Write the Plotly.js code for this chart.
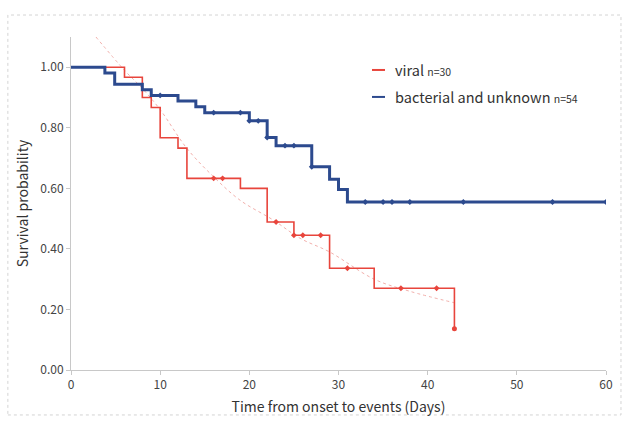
<!DOCTYPE html>
<html>
<head>
<meta charset="utf-8">
<script src="https://cdn.plot.ly/plotly-3.0.1.min.js"></script>
<style>html,body{margin:0;padding:0;background:#fff}#chart{width:623px;height:423px}</style>
</head>
<body>
<div id="chart"></div>
<script>
// Kaplan-Meier step data
var viralDays   = [0, 6, 8, 9, 10, 12, 13, 19, 22, 25, 29, 34, 43];
var viralSurv   = [1.0, 0.967, 0.9, 0.867, 0.767, 0.733, 0.633, 0.6, 0.489, 0.445, 0.336, 0.27, 0.136];
var viralCensDays = [16, 17, 23, 25, 26, 28, 31, 37, 41];
var viralCensSurv = [0.633, 0.633, 0.489, 0.445, 0.445, 0.445, 0.336, 0.27, 0.27];
var viralEndDay = [43];
var viralEndSurv = [0.136];

var bactDays = [0, 3.8, 4.9, 8, 9, 12, 14, 15, 20, 22, 23, 27, 29, 30, 31, 60];
var bactSurv = [1.0, 0.981, 0.944, 0.926, 0.907, 0.889, 0.87, 0.85, 0.823, 0.768, 0.741, 0.671, 0.63, 0.596, 0.555, 0.555];
var bactCensDays = [10, 16, 19, 20, 21, 22, 24, 25, 27, 33, 35, 36, 38, 44, 54, 60];
var bactCensSurv = [0.907, 0.85, 0.85, 0.823, 0.823, 0.768, 0.741, 0.741, 0.671, 0.555, 0.555, 0.555, 0.555, 0.555, 0.555, 0.555];

// faint fitted curve
var fitDays = [2.8, 6, 8, 10, 13, 16, 19, 22.7, 25.7, 29, 34, 38, 43];
var fitSurv = [1.10, 0.99, 0.93, 0.86, 0.732, 0.638, 0.56, 0.495, 0.435, 0.39, 0.30, 0.26, 0.222];

var seriesNames = ['viral', 'bacterial and unknown'];
var seriesN = ['n=30', 'n=54'];

var xTicks = [0, 10, 20, 30, 40, 50, 60];
var yTicks = [0, 0.2, 0.4, 0.6, 0.8, 1.0];

var red = '#e8453c', blue = '#2c4a8e';
var colors = [red, blue];

var traces = [
  {x: fitDays, y: fitSurv, mode: 'lines', line: {color: '#f2b0ac', width: 1, dash: 'dot', shape: 'spline'}, showlegend: false},
  {x: viralDays, y: viralSurv, mode: 'lines', name: seriesNames[0], line: {color: red, width: 1.6, shape: 'hv'}, showlegend: false},
  {x: bactDays, y: bactSurv, mode: 'lines', name: seriesNames[1], line: {color: blue, width: 3, shape: 'hv'}, showlegend: false},
  {x: viralCensDays, y: viralCensSurv, mode: 'markers', marker: {symbol: 'diamond', size: 4.5, color: red}, showlegend: false},
  {x: viralEndDay, y: viralEndSurv, mode: 'markers', marker: {symbol: 'circle', size: 5, color: red}, showlegend: false},
  {x: bactCensDays, y: bactCensSurv, mode: 'markers', marker: {symbol: 'diamond', size: 4.5, color: blue}, showlegend: false}
];

var fontFam = '"Noto Sans CJK JP", "Open Sans", sans-serif';

// manual legend (short line samples + text)
var legY = [0.901, 0.820];
var shapes = [
  {type: 'rect', xref: 'paper', yref: 'paper', x0: -0.118, x1: 1.028, y0: -0.135, y1: 1.066,
   line: {color: '#d4d4d4', width: 1, dash: 'dot'}, fillcolor: 'rgba(0,0,0,0)', layer: 'below'}
];
var annotations = [];
for (var i = 0; i < seriesNames.length; i++) {
  shapes.push({type: 'line', xref: 'paper', yref: 'paper', x0: 0.5626, x1: 0.5869, y0: legY[i], y1: legY[i],
               line: {color: colors[i], width: 2}});
  annotations.push({xref: 'paper', yref: 'paper', x: 0.6019, y: legY[i], xanchor: 'left', yanchor: 'middle',
                    showarrow: false, font: {size: 14.5, color: '#333', family: fontFam},
                    text: seriesNames[i] + ' <span style="font-size:10.5px">' + seriesN[i] + '</span>'});
}

var layout = {
  width: 623, height: 423,
  margin: {l: 71, r: 17, t: 37, b: 53},
  paper_bgcolor: '#fff', plot_bgcolor: '#fff',
  font: {family: fontFam, color: '#333', size: 12},
  showlegend: false,
  xaxis: {
    range: [0, 60], tickvals: xTicks, ticktext: xTicks.map(String),
    showgrid: false, zeroline: false, showline: true, linecolor: '#c8c8c8', linewidth: 1,
    ticks: 'outside', ticklen: 4, tickcolor: '#c8c8c8',
    tickfont: {size: 12, color: '#444'},
    title: {text: 'Time from onset to events (Days)', font: {size: 14, color: '#333'}, standoff: 10}
  },
  yaxis: {
    range: [0, 1.1], tickvals: yTicks, ticktext: yTicks.map(function(v){return v.toFixed(2);}),
    showgrid: false, zeroline: false, showline: true, linecolor: '#c8c8c8', linewidth: 1,
    ticks: 'outside', ticklen: 4, tickcolor: '#c8c8c8',
    tickfont: {size: 12, color: '#444'},
    title: {text: 'Survival probability', font: {size: 14, color: '#333'}, standoff: 8}
  },
  shapes: shapes,
  annotations: annotations
};

Plotly.newPlot('chart', traces, layout, {displayModeBar: false, staticPlot: true});
</script>
</body>
</html>
